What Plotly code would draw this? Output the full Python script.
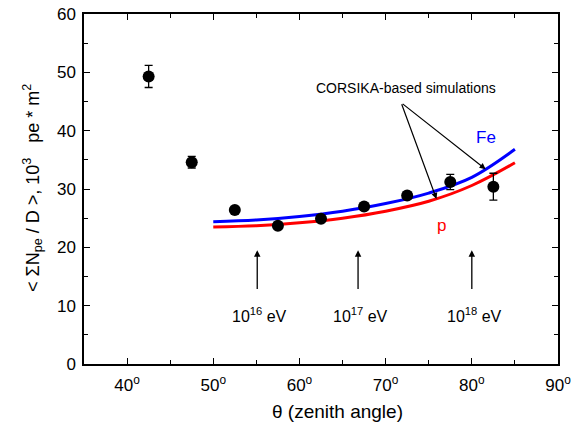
import plotly.graph_objects as go

# Data
theta = [42.5, 47.5, 52.5, 57.5, 62.5, 67.5, 72.5, 77.5, 82.5]
signal = [49.3, 34.6, 26.4, 23.7, 24.9, 27.0, 28.9, 31.2, 30.4]
signal_err = [1.9, 1.0, 0.4, 0.4, 0.4, 0.4, 0.4, 1.3, 2.3]

sim_theta = [50, 55, 60, 65, 70, 75, 80, 85]
fe_vals = [24.4, 24.7, 25.3, 26.2, 27.5, 29.3, 32.0, 36.8]
p_vals = [23.5, 23.7, 24.2, 25.0, 26.2, 27.9, 30.6, 34.5]

x_ticks = [40, 50, 60, 70, 80, 90]
x_ticklabels = ["40<sup>o</sup>", "50<sup>o</sup>", "60<sup>o</sup>", "70<sup>o</sup>", "80<sup>o</sup>", "90<sup>o</sup>"]
y_ticks = [0, 10, 20, 30, 40, 50, 60]

energy_theta = [55.1, 66.8, 80.0]
energy_labels = ["10<sup>16</sup> eV", "10<sup>17</sup> eV", "10<sup>18</sup> eV"]

FONT = "Liberation Sans, Arial, sans-serif"

L, R, T, B = 84, 24, 14, 61
W, H = 582, 425
PW, PH = W - L - R, H - T - B

def px_x(p):
    return (p - L) / PW

def px_y(p):
    return (T + PH - p) / PH

fig = go.Figure()
fig.add_trace(go.Scatter(x=sim_theta, y=fe_vals, mode="lines", line=dict(color="#0000ff", width=3, shape="spline"), showlegend=False))
fig.add_trace(go.Scatter(x=sim_theta, y=p_vals, mode="lines", line=dict(color="#ff0000", width=3, shape="spline"), showlegend=False))
fig.add_trace(go.Scatter(
    x=theta, y=signal, mode="markers",
    marker=dict(color="black", size=12, symbol="circle"),
    error_y=dict(type="data", array=signal_err, color="black", thickness=1.3, width=4),
    showlegend=False))

ann = []
for t, lab in zip(energy_theta, energy_labels):
    ann.append(dict(x=t, y=19.5, ax=t, ay=12.6, xref="x", yref="y", axref="x", ayref="y",
                    text="", showarrow=True, arrowhead=2, arrowsize=1, arrowwidth=1.3, arrowcolor="black"))
    ann.append(dict(x=t + 0.3, y=8.4, xref="x", yref="y", text=lab, showarrow=False,
                    font=dict(family=FONT, size=16, color="black")))

ann.append(dict(x=72.4, y=47.4, xref="x", yref="y", text="CORSIKA-based simulations", showarrow=False,
                font=dict(family=FONT, size=14, color="black")))
for hx, hy in [(75.9, 28.3), (81.6, 33.4)]:
    ann.append(dict(x=hx, y=hy, ax=71.8, ay=44.8, xref="x", yref="y", axref="x", ayref="y",
                    text="", showarrow=True, arrowhead=2, arrowsize=1, arrowwidth=1.2, arrowcolor="black"))
ann.append(dict(x=81.7, y=38.9, xref="x", yref="y", text="Fe", showarrow=False,
                font=dict(family=FONT, size=17, color="#0000ff")))
ann.append(dict(x=76.5, y=23.7, xref="x", yref="y", text="p", showarrow=False,
                font=dict(family=FONT, size=17, color="#ff0000")))
ann.append(dict(x=px_x(337), y=px_y(411), xref="paper", yref="paper",
                text="θ (zenith angle)", showarrow=False, yanchor="middle", xanchor="center",
                font=dict(family=FONT, size=19, color="black")))
ann.append(dict(x=px_x(32), y=px_y(188), xref="paper", yref="paper", textangle=-90,
                text="< ΣN<sub>pe</sub> / D >, 10<sup>3</sup>   pe * m<sup>2</sup>",
                showarrow=False, yanchor="middle", xanchor="center",
                font=dict(family=FONT, size=18, color="black")))

axis_common = dict(showgrid=False, zeroline=False, showline=True, linecolor="black", linewidth=1.5,
                   mirror="allticks", ticks="inside", ticklen=6, tickwidth=1.3, tickcolor="black",
                   automargin=False,
                   tickfont=dict(family=FONT, size=17, color="black"))

fig.update_layout(
    width=W, height=H,
    margin=dict(l=L, r=R, t=T, b=B),
    paper_bgcolor="white", plot_bgcolor="white",
    xaxis=dict(range=[35, 90], tickvals=x_ticks, ticktext=x_ticklabels, ticklabelstandoff=5,
               minor=dict(dtick=5, tick0=35, ticks="inside", ticklen=4, tickcolor="black", tickwidth=1.3),
               **axis_common),
    yaxis=dict(range=[0, 60], tickvals=y_ticks, ticklabelstandoff=3,
               minor=dict(dtick=5, ticks="inside", ticklen=4, tickcolor="black", tickwidth=1.3),
               **axis_common),
    annotations=ann,
)

fig.write_html("out.html", config={"displayModeBar": False},
               post_script="document.body.style.margin='0';document.body.style.overflow='hidden';")
